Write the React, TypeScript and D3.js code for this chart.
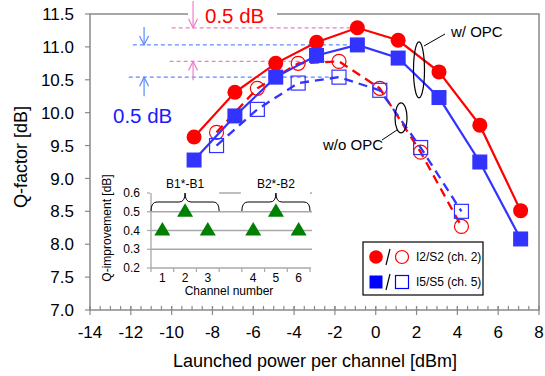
import React from 'react';
import * as d3 from 'd3';

// launched power [dBm] and Q-factor [dB]
const xWithOpc = [-8.9, -6.9, -4.9, -2.9, -0.9, 1.1, 3.1, 5.1, 7.1];
const qI2 = [9.63, 10.31, 10.75, 11.07, 11.29, 11.1, 10.62, 9.81, 8.51];
const qI5 = [9.28, 9.95, 10.54, 10.87, 11.03, 10.83, 10.23, 9.25, 8.08];
const xNoOpc = [-7.8, -5.8, -3.8, -1.8, 0.2, 2.2, 4.2];
const qS2 = [9.7, 10.37, 10.75, 10.78, 10.37, 9.4, 8.27];
const qS5 = [9.5, 10.05, 10.45, 10.54, 10.34, 9.47, 8.5];

const xTicks = [-14, -12, -10, -8, -6, -4, -2, 0, 2, 4, 6, 8];
const yTicks = [7.0, 7.5, 8.0, 8.5, 9.0, 9.5, 10.0, 10.5, 11.0, 11.5];

// inset: Q-improvement per channel
const insetSlots = ['1', '2', '3', 'gap', '4', '5', '6'];
const channels = ['1', '2', '3', '4', '5', '6'];
const improvement = [0.4, 0.5, 0.4, 0.4, 0.5, 0.4];
const insetYTicks = [0.2, 0.3, 0.4, 0.5, 0.6];
const bands = [
  { label: 'B1*-B1', from: '1', to: '3' },
  { label: 'B2*-B2', from: '4', to: '6' },
];

const RED = '#ff0000';
const BLUE = '#3333ff';
const PINK = '#f27ccc';
const LBLUE = '#5b8cff';
const GRAY = '#8a8a8a';
const FONT = '"Liberation Sans", Arial, sans-serif';

const x = d3.scaleLinear().domain([-14, 8]).range([90, 539]);
const y = d3.scaleLinear().domain([7, 11.5]).range([310, 14]);

const xi = d3.scaleBand().domain(insetSlots).range([151, 310]).padding(0);
const yi = d3.scaleLinear().domain([0.2, 0.6]).range([268, 193]);

const lineOf = (xs: number[], ys: number[]) =>
  d3.line<number>().x((_, i) => x(xs[i])).y((d) => y(d))(ys) || '';

const brace = (x0: number, x1: number, yTop: number, yMid: number, yEnd: number) => {
  const xc = (x0 + x1) / 2;
  const r = 6;
  const p = d3.path();
  p.moveTo(x0, yEnd);
  p.quadraticCurveTo(x0, yMid, x0 + r, yMid);
  p.lineTo(xc - r, yMid);
  p.quadraticCurveTo(xc, yMid, xc, yTop);
  p.quadraticCurveTo(xc, yMid, xc + r, yMid);
  p.lineTo(x1 - r, yMid);
  p.quadraticCurveTo(x1, yMid, x1, yEnd);
  return p.toString();
};

const Arrow = ({ px, from, to, color }: { px: number; from: number; to: number; color: string }) => {
  const dir = to > from ? 1 : -1;
  return (
    <g stroke={color} strokeWidth={1.2} fill="none">
      <line x1={px} x2={px} y1={from} y2={to} />
      <polyline points={`${px - 4.5},${to - dir * 9} ${px},${to} ${px + 4.5},${to - dir * 9}`} />
    </g>
  );
};

export default function App() {
  const minorX = d3.range(-14, 8.01, 0.5);
  const peakI2 = d3.max(qI2) as number;
  const peakI5 = d3.max(qI5) as number;
  const peakS2 = d3.max(qS2) as number;
  const peakS5 = d3.max(qS5) as number;
  const xPeakW = xWithOpc[qI2.indexOf(peakI2)];
  const xPeakN = xNoOpc[qS2.indexOf(peakS2)];
  const pinkX = x(-8.95);
  const blueX = x(-11.35);

  return (
    <svg width={545} height={376} style={{ position: 'absolute', left: 0, top: 0, background: '#fff' }} fontFamily={FONT}>
      {/* frame */}
      <rect x={90} y={14} width={449} height={296} fill="none" stroke={GRAY} strokeWidth={1.5} />

      {/* y axis ticks */}
      {yTicks.map((t) => (
        <g key={'y' + t}>
          <line x1={85} x2={90} y1={y(t)} y2={y(t)} stroke={GRAY} strokeWidth={1.2} />
          <text x={74} y={y(t)} dy="0.36em" textAnchor="end" fontSize={17} fill="#000">
            {t.toFixed(1)}
          </text>
        </g>
      ))}
      {/* x axis ticks */}
      {minorX.map((t) => (
        <line key={'m' + t} x1={x(t)} x2={x(t)} y1={306} y2={310} stroke={GRAY} strokeWidth={1.2} />
      ))}
      {xTicks.map((t) => (
        <g key={'x' + t}>
          <line x1={x(t)} x2={x(t)} y1={306} y2={315} stroke={GRAY} strokeWidth={1.2} />
          <text x={x(t)} y={338} textAnchor="middle" fontSize={17} fill="#000">
            {t}
          </text>
        </g>
      ))}
      <text x={315} y={367} textAnchor="middle" fontSize={18} fill="#000">
        Launched power per channel [dBm]
      </text>
      <text transform="translate(27,157) rotate(-90)" textAnchor="middle" fontSize={18} fill="#000">
        Q-factor [dB]
      </text>

      {/* 0.5 dB annotations */}
      <g strokeDasharray="4,3" strokeWidth={1.3} fill="none">
        <line x1={x(-10)} x2={x(xPeakW) - 6} y1={y(peakI2)} y2={y(peakI2)} stroke={PINK} />
        <line x1={x(-10.1)} x2={x(xPeakN) - 6} y1={y(peakS2)} y2={y(peakS2)} stroke={PINK} />
        <line x1={x(-11.9)} x2={x(xPeakW) - 6} y1={y(peakI5)} y2={y(peakI5)} stroke={LBLUE} />
        <line x1={x(-12.1)} x2={x(xPeakN) - 6} y1={y(peakS5)} y2={y(peakS5)} stroke={LBLUE} />
      </g>
      <rect x={188} y={0} width={89} height={25} fill="#fff" />
      <Arrow px={pinkX} from={1} to={y(peakI2)} color={PINK} />
      <Arrow px={pinkX} from={y(peakS2) + 19} to={y(peakS2)} color={PINK} />
      <Arrow px={blueX} from={y(peakI5) - 18} to={y(peakI5)} color={LBLUE} />
      <Arrow px={blueX} from={y(peakS5) + 19} to={y(peakS5)} color={LBLUE} />
      <text x={205} y={23} fontSize={20.5} fill={RED}>0.5 dB</text>
      <text x={113} y={123} fontSize={20.5} fill="#1a1aff">0.5 dB</text>

      {/* inset */}
      <g>
        {insetYTicks.map((t) => (
          <g key={'iy' + t}>
            <line x1={151} x2={t === 0.2 ? 151 : 312} y1={yi(t)} y2={yi(t)} stroke="#a8a8a8" strokeWidth={1.3} />
            <line x1={147} x2={151} y1={yi(t)} y2={yi(t)} stroke="#a8a8a8" strokeWidth={1.2} />
            <text x={140} y={yi(t)} dy="0.35em" textAnchor="end" fontSize={12} fill="#000">
              {t.toFixed(1)}
            </text>
          </g>
        ))}
        {bands.map((b) => (
          <rect key={'w' + b.label} x={(xi(b.from) as number) - 1} y={176} width={xi.bandwidth() * 3 + 1} height={19} fill="#fff" />
        ))}
        <line x1={151} x2={151} y1={193} y2={268} stroke="#a8a8a8" strokeWidth={1.3} />
        <line x1={151} x2={311} y1={268} y2={268} stroke="#a8a8a8" strokeWidth={1.3} />
        {insetSlots.map((s) => (
          <line key={'it' + s} x1={xi(s) as number} x2={xi(s) as number} y1={268} y2={272} stroke="#a8a8a8" strokeWidth={1.2} />
        ))}
        <line x1={310} x2={310} y1={268} y2={272} stroke="#a8a8a8" strokeWidth={1.2} />
        {channels.map((c) => (
          <text key={'il' + c} x={(xi(c) as number) + xi.bandwidth() / 2} y={282} textAnchor="middle" fontSize={12} fill="#000">
            {c}
          </text>
        ))}
        <text x={229} y={295} textAnchor="middle" fontSize={12} fill="#000">Channel number</text>
        <text transform="translate(111,228) rotate(-90)" textAnchor="middle" fontSize={12} fill="#000">
          Q-improvement [dB]
        </text>
        {bands.map((b) => {
          const x0 = xi(b.from) as number;
          const x1 = (xi(b.to) as number) + xi.bandwidth();
          return (
            <g key={b.label}>
              <path d={brace(x0, x1, 193, 202, 211)} fill="none" stroke="#000" strokeWidth={1} />
              <text x={(x0 + x1) / 2} y={188} textAnchor="middle" fontSize={12} fill="#000">
                {b.label}
              </text>
            </g>
          );
        })}
        {channels.map((c, i) => {
          const cx = (xi(c) as number) + xi.bandwidth() / 2;
          const cy = yi(improvement[i]);
          return (
            <path key={'tri' + c} d={`M${cx},${cy - 8.5} L${cx + 8},${cy + 5} L${cx - 8},${cy + 5} Z`} fill="#008000" />
          );
        })}
      </g>

      {/* curves */}
      <path d={lineOf(xNoOpc, qS2)} fill="none" stroke={RED} strokeWidth={2.3} strokeDasharray="9,6" />
      <path d={lineOf(xNoOpc, qS5)} fill="none" stroke={BLUE} strokeWidth={2.3} strokeDasharray="9,6" />
      <path d={lineOf(xWithOpc, qI2)} fill="none" stroke={RED} strokeWidth={2.2} />
      <path d={lineOf(xWithOpc, qI5)} fill="none" stroke={BLUE} strokeWidth={2.2} />
      {qS2.map((v, i) => (
        <circle key={'s2' + i} cx={x(xNoOpc[i])} cy={y(v)} r={7} fill="none" stroke={RED} strokeWidth={1.2} />
      ))}
      {qS5.map((v, i) => (
        <rect key={'s5' + i} x={x(xNoOpc[i]) - 7} y={y(v) - 7} width={14} height={14} fill="none" stroke={BLUE} strokeWidth={1.2} />
      ))}
      {qI2.map((v, i) => (
        <circle key={'i2' + i} cx={x(xWithOpc[i])} cy={y(v)} r={7.5} fill={RED} />
      ))}
      {qI5.map((v, i) => (
        <rect key={'i5' + i} x={x(xWithOpc[i]) - 7.5} y={y(v) - 7.5} width={15} height={15} fill={BLUE} />
      ))}

      {/* OPC labels */}
      <ellipse cx={x(2.12)} cy={y(10.65)} rx={5.5} ry={28} fill="none" stroke="#000" strokeWidth={1.2} />
      <line x1={424} y1={46} x2={445} y2={34} stroke="#000" strokeWidth={1} />
      <text x={451} y={37} fontSize={15} fill="#000">w/ OPC</text>
      <ellipse cx={x(1.24)} cy={y(9.92)} rx={6} ry={15} fill="none" stroke="#000" strokeWidth={1.2} />
      <line x1={397} y1={130} x2={382} y2={140} stroke="#000" strokeWidth={1} />
      <text x={323} y={150} fontSize={15} fill="#000">w/o OPC</text>

      {/* legend */}
      <rect x={363} y={242} width={120} height={53} fill="#fff" stroke="#000" strokeWidth={1.2} />
      <circle cx={376} cy={257} r={6.8} fill={RED} />
      <line x1={390} y1={249} x2={386} y2={265} stroke="#000" strokeWidth={1.2} />
      <circle cx={402} cy={257} r={6.5} fill="none" stroke={RED} strokeWidth={1.2} />
      <text x={416} y={261} fontSize={12} fill="#000">I2/S2 (ch. 2)</text>
      <rect x={369.5} y={275.5} width={13} height={13} fill="#0000ff" />
      <line x1={390} y1={274} x2={386} y2={290} stroke="#000" strokeWidth={1.2} />
      <rect x={395.5} y={275.5} width={13} height={13} fill="none" stroke="#0000ff" strokeWidth={1.2} />
      <text x={416} y={286} fontSize={12} fill="#000">I5/S5 (ch. 5)</text>
    </svg>
  );
}
